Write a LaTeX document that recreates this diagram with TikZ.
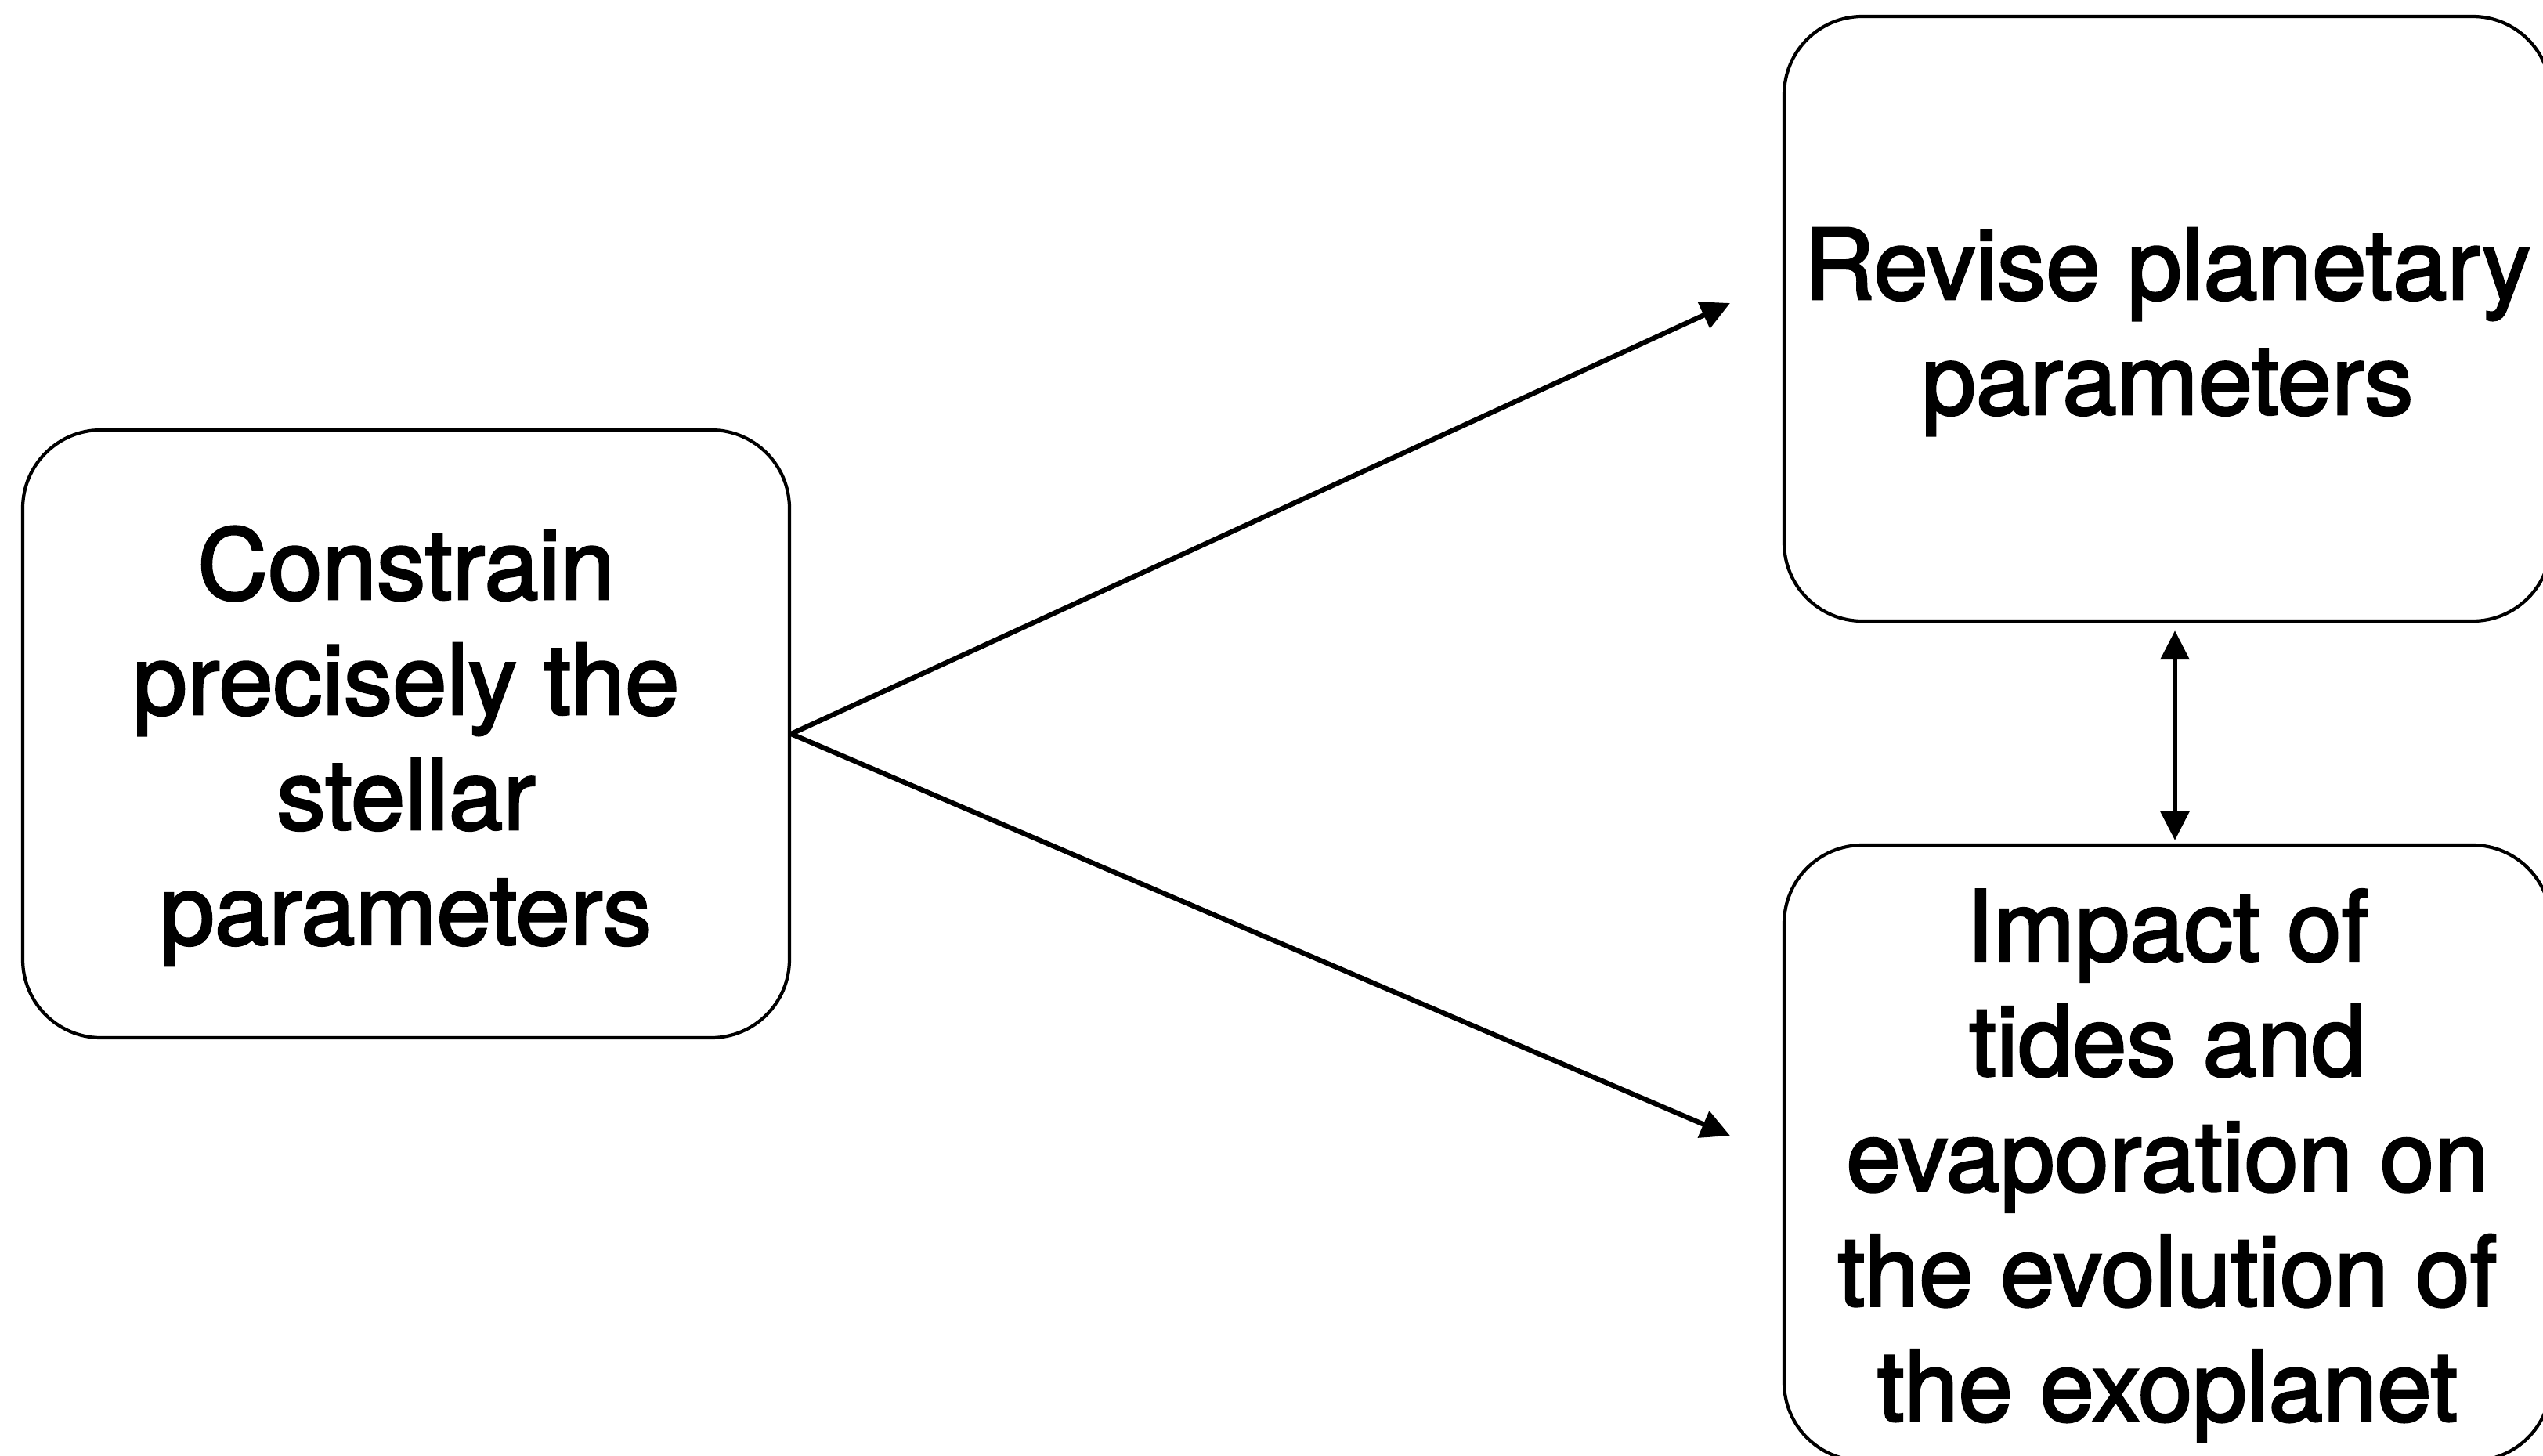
\documentclass[tikz,border=0pt]{standalone}
\usepackage{fontspec}
\setmainfont{TeX Gyre Heros}
\newfontfamily\boxfont{TeX Gyre Heros}[FakeBold=2.3]
\usetikzlibrary{arrows.meta}
\newcommand\tstrut{\rule{0pt}{1.24cm}}
\begin{document}
\begin{tikzpicture}[x=1cm,y=1cm,
  box/.style={draw=black, line width=1.2pt, rounded corners=1.0cm, align=center,
    inner sep=0pt, font=\boxfont\fontsize{35.5}{41.8}\selectfont},
  conn/.style={draw=black, line width=1.8pt, -{Triangle[length=0.37cm,width=0.36cm]}},
  conn2/.style={draw=black, line width=1.8pt, {Triangle[length=0.37cm,width=0.36cm]}-{Triangle[length=0.37cm,width=0.36cm]}}]
\useasboundingbox (0,0) rectangle (32.47,-18.59);
\node[box, minimum width=9.79cm, minimum height=7.76cm] (L) at (5.185,-9.37)
  {\tstrut Constrain\\precisely the\\stellar\\parameters};
\node[box, minimum width=9.79cm, minimum height=7.72cm] (T) at (27.675,-4.07)
  {\tstrut Revise planetary\\parameters};
\node[box, minimum width=9.79cm, minimum height=7.86cm] (B) at (27.675,-14.72)
  {\tstrut Impact of\\tides and\\evaporation on\\the evolution of\\the exoplanet};
\coordinate (e1) at (22.09,-3.87);
\coordinate (e2) at (22.09,-14.50);
\draw[conn] (L.east) -- (e1);
\draw[conn] (L.east) -- (e2);
\draw[conn2] ([xshift=0.095cm,yshift=-0.1cm]T.south) -- ([xshift=0.095cm,yshift=0.04cm]B.north);
\end{tikzpicture}
\end{document}
